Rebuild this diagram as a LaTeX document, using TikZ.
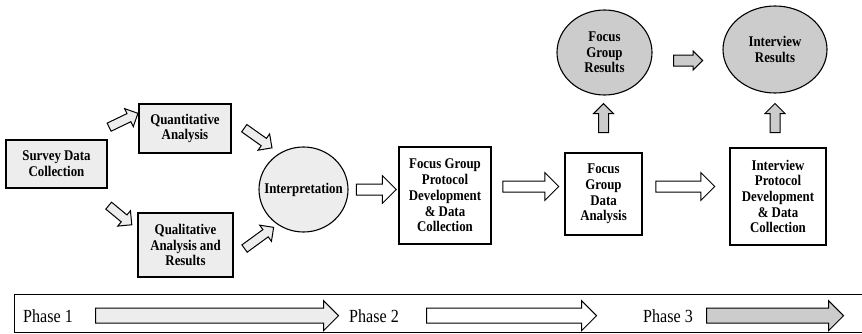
\documentclass[tikz,border=0pt]{standalone}
\usepackage{fontspec}
\setmainfont{Liberation Serif}[FakeStretch=0.87]
\usetikzlibrary{shapes,shapes.geometric,shapes.arrows,positioning}
\definecolor{lightfill}{gray}{0.93}
\definecolor{midfill}{gray}{0.8}

\begin{document}
\begin{tikzpicture}[x=1pt,y=1pt]

\tikzset{
     stage/.style={
        rectangle,
        line width=1.1pt,
        draw=black,
        fill=white,
        inner sep=0pt,
        align=center,
        font=\fontsize{14.8}{15.7}\selectfont\bfseries
     }
}

\tikzset{
     result/.style={
        stage,
        ellipse
     }
}

\tikzset{
     blockarrow/.style={
        single arrow,
        draw=black,
        line width=1pt,
        fill=white,
        inner sep=0pt,
        text depth=0pt,
        minimum width=0pt,
        single arrow tip angle=90
     },
     flow/.style={
        blockarrow,
        sloped,
        allow upside down
     },
     bigshaft/.style={
        text height=10pt,
        single arrow head extend=8.5pt
     },
     thinshaft/.style={
        fill=lightfill,
        text height=8pt,
        single arrow head extend=5.5pt
     }
}

\tikzset{
     phase/.style={
        inner sep=0pt,
        font=\fontsize{18.5}{20}\selectfont
     },
     phasearrow/.style={
        blockarrow,
        text height=14pt,
        single arrow head extend=7.5pt
     }
}

\useasboundingbox (0,0) rectangle (862,333);

% survey and analyses
\node[stage, fill=lightfill, minimum width=101pt, minimum height=48pt] (survey) at (56.5,169) {Survey Data\\Collection};
\node[stage, fill=lightfill, minimum width=92pt, minimum height=49pt] (quant) at (185,204.5) {Quantitative\\Analysis};
\node[stage, fill=lightfill, minimum width=95pt, minimum height=64pt] (qual) at (185.5,88) {Qualitative\\Analysis and\\Results};
\node[result, fill=lightfill, minimum width=89pt, minimum height=85pt] (interp) at (303.5,143.5) {\makebox[0pt]{Interpretation}};

% focus group
\node[stage, minimum width=92pt, minimum height=97pt] (fgproto) at (445,137.5) {Focus Group\\Protocol\\Development\\\& Data\\Collection};
\node[stage, minimum width=77pt, minimum height=82pt] (fgdata) at (603.5,139) {Focus\\Group\\Data\\Analysis};
\node[result, fill=midfill, minimum width=95pt, minimum height=85pt] (fgres) at (604.5,280.5) {Focus\\Group\\Results};

% interview
\node[stage, minimum width=96pt, minimum height=97pt] (intproto) at (778,136.5) {Interview\\Protocol\\Development\\\& Data\\Collection};
\node[result, fill=midfill, minimum width=104pt, minimum height=87pt] (intres) at (775,283.5) {Interview\\Results};

% arrows phase 1
\path ([shift={(1,12)}]survey.north east) -- node[flow, thinshaft, minimum height=32pt] {} ([shift={(-4,13.5)}]quant.west);
\path ([shift={(1,-17)}]survey.south east) -- node[flow, thinshaft, minimum height=30pt] {} ([shift={(-9,23)}]qual.west);
\path ([shift={(11,1.5)}]quant.east) -- node[flow, thinshaft, minimum height=34pt] {} ([shift={(-33.5,0)}]interp.north);
\path ([shift={(9,-5)}]qual.east) -- node[flow, thinshaft, minimum height=36pt] {} ([shift={(-31.5,4)}]interp.south);

% arrows phase 2
\path (interp.east) -- node[flow, bigshaft, minimum height=40pt] {} (interp.east -| fgproto.west);
\path ([yshift=9pt]fgproto.east) -- node[flow, bigshaft, minimum height=56pt] {} ([yshift=9pt]fgproto.east -| fgdata.west);
\path (fgdata.north) -- node[flow, fill=midfill, pos=0.56, text height=9pt, single arrow head extend=5pt, minimum height=29pt] {} (fgdata.north |- fgres.south);

% arrows phase 3
\path ([yshift=7.5pt]fgdata.east) -- node[flow, pos=0.46, bigshaft, minimum height=59pt] {} ([yshift=7.5pt]fgdata.east -| intproto.west);
\path (intres.south |- intproto.north) -- node[flow, fill=midfill, text height=9pt, single arrow head extend=5pt, minimum height=29pt] {} (intres.south);
\path ([yshift=-8pt]fgres.east) -- node[flow, fill=midfill, pos=0.47, text height=10pt, single arrow head extend=4pt, minimum height=29pt] {} ([yshift=-8pt]fgres.east -| intres.west);

% phase bar
\begin{scope}
\clip (0,0) rectangle (862,333);
\draw[line width=1pt] (14,1) rectangle (880,39);
\end{scope}

\node[phase, anchor=base west] (phase1) at (23,11) {Phase 1};
\node[phasearrow, fill=lightfill, minimum height=243pt, right=22pt of phase1] (bar1) {};
\node[phase, anchor=base west] (phase2) at (349,11) {Phase 2};
\node[phasearrow, minimum height=170pt, right=27pt of phase2] (bar2) {};
\node[phase, anchor=base west] (phase3) at (643,11) {Phase 3};
\node[phasearrow, fill=midfill, minimum height=137pt, right=13pt of phase3] (bar3) {};

\end{tikzpicture}
\end{document}
